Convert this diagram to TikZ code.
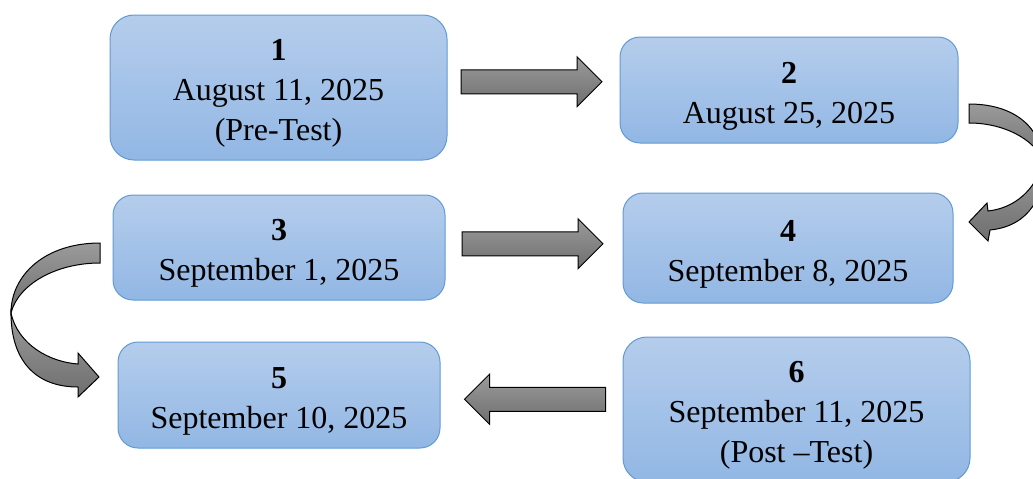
\documentclass[tikz,border=0pt]{standalone}
\usepackage{fontspec}
\setmainfont{Liberation Serif}
\usetikzlibrary{positioning}
\usetikzlibrary{calc}
\usetikzlibrary{shapes.arrows}
\usepackage{xcolor}

\definecolor{boxtop}{RGB}{181,205,236}
\definecolor{boxbot}{RGB}{146,183,228}
\definecolor{boxline}{RGB}{98,154,212}
\definecolor{arrtop}{RGB}{155,155,155}
\definecolor{arrbot}{RGB}{110,110,110}

% pushes the text of a box a little down
\newcommand\topgap{\rule{0pt}{16.8pt}}

\tikzset{
  datebox/.style={draw=boxline, line width=0.5pt, top color=boxtop, bottom color=boxbot,
    rounded corners=10pt, align=center, inner sep=0pt,
    font=\fontsize{16}{20}\selectfont},
  blockarrow/.style={single arrow, draw=black, line width=0.5pt, top color=arrtop,
    bottom color=arrbot, minimum height=70.5pt, text height=5.75pt, text depth=5.75pt,
    single arrow head extend=6.5pt, single arrow tip angle=90,
    single arrow head indent=0pt, inner sep=0pt},
  bentarrow/.style={draw=black, line width=0.5pt, top color=arrtop, bottom color=arrbot}
}

\begin{document}
\begin{tikzpicture}[x=0.5pt, y=-0.5pt]

\useasboundingbox (0,0) rectangle (1033,478);
\clip (0,0) rectangle (1033,478);

%%%%%%%%%%%%  Dates %%%%%%%%%%%%%
{
\node[datebox, minimum width=168.5pt, minimum height=72.5pt, rounded corners=12pt] (b1)
  at (278.5,87.5) {\topgap\textbf{1}\\August 11, 2025\\(Pre-Test)};
\node[datebox, minimum width=169pt, minimum height=53pt] (b2)
  at (789,90) {\topgap\textbf{2}\\August 25, 2025};
\node[datebox, minimum width=166pt, minimum height=52.5pt] (b3)
  at (279,247.5) {\topgap\textbf{3}\\September 1, 2025};
\node[datebox, minimum width=165pt, minimum height=55pt] (b4)
  at (788,248) {\topgap\textbf{4}\\September 8, 2025};
\node[datebox, minimum width=161pt, minimum height=53pt] (b5)
  at (279,395) {\topgap\textbf{5}\\September 10, 2025};
\node[datebox, minimum width=173.5pt, minimum height=72.5pt, rounded corners=12pt] (b6)
  at (796.5,409.5) {\topgap\textbf{6}\\September 11, 2025\\(Post –Test)};
}

% straight arrows
{
\node[blockarrow] (a12) at ($(b1.east)!0.5!(b2.west)+(-8,-7)$) {};
\node[blockarrow] (a34) at ($(b3.east)!0.5!(b4.west)+(-7.5,-4)$) {};
\node[blockarrow, shape border rotate=180] (a65) at ($(b6.west)!0.5!(b5.east)+(9.5,-3)$) {};
}

% bent arrows
{
% 2 -> 4
\draw[bentarrow] (969,104) .. controls (1015,104) and (1042,128) .. (1043,163)
  .. controls (1040,145) and (1010,123) .. (969,123) -- cycle;
\draw[bentarrow] (1043,163) .. controls (1045,195) and (1030,226) .. (990,230)
  -- (988,241) -- (969,222) -- (987,203) -- (988,211)
  .. controls (1015,208) and (1035,190) .. (1043,163) -- cycle;

% 3 -> 5
\draw[bentarrow] (100,243) .. controls (45,243) and (11,275) .. (11,313)
  .. controls (18,285) and (55,263) .. (100,263) -- cycle;
\draw[bentarrow] (11,313) .. controls (11,360) and (35,387) .. (78,387)
  -- (78,397) -- (99,377) -- (78,353) -- (78,364)
  .. controls (50,362) and (18,345) .. (11,313) -- cycle;
}

\end{tikzpicture}
\end{document}
